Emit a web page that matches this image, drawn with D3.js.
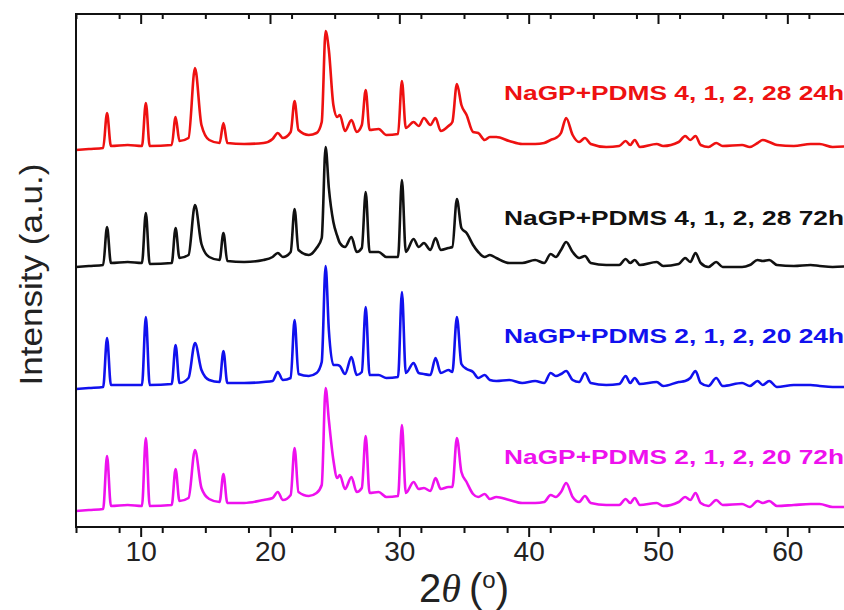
<!DOCTYPE html>
<html>
<head>
<meta charset="utf-8">
<script src="https://cdn.jsdelivr.net/npm/d3@7"></script>
<style>
  html, body { margin: 0; padding: 0; background: #fff; }
  svg { display: block; font-family: Arial, "Liberation Sans", sans-serif; }
</style>
</head>
<body>
<script>
// 2theta grid (degrees), shared by all four scans
const twoTheta = [5.0, 6.0, 7.1, 7.4, 7.7, 9.0, 10.1, 10.4, 10.7, 12.4,
  12.7, 13.0, 13.7, 14.2, 14.7, 15.3, 16.1, 16.4, 16.7, 18.0,
  19.5, 20.2, 20.6, 21.0, 21.6, 21.9, 22.2, 23.0, 23.6, 24.0,
  24.3, 24.55, 24.9, 25.2, 25.4, 25.8, 26.3, 26.7, 27.1, 27.4,
  27.7, 28.4, 29.0, 29.9, 30.2, 30.5, 31.1, 31.5, 31.9, 32.4,
  32.8, 33.2, 33.8, 34.1, 34.45, 34.8, 35.2, 35.7, 36.1, 36.6,
  37.0, 37.5, 38.5, 39.5, 40.5, 41.2, 41.7, 42.1, 42.5, 42.9,
  43.4, 43.9, 44.35, 44.8, 46.0, 47.0, 47.5, 47.85, 48.2, 48.6,
  49.9, 50.4, 51.6, 52.1, 52.5, 52.9, 53.3, 53.9, 54.5, 55.0,
  56.5, 57.1, 57.7, 58.1, 58.6, 59.2, 60.5, 61.8, 62.5, 63.5, 65.0]

// stacked intensities (a.u.), offsets included
const red24h = [377, 378, 379, 414, 381, 382, 381, 424, 381, 382,
  410, 386, 389, 459, 402, 387, 384, 404, 384, 383,
  384, 388, 394, 389, 395, 426, 397, 392, 394, 405,
  496, 477, 422, 410, 412, 396, 407, 395, 402, 437,
  397, 398, 392, 393, 446, 399, 405, 401, 409, 402,
  409, 396, 401, 405, 443, 422, 412, 395, 394, 387,
  390, 390, 386, 383, 383, 384, 387, 389, 394, 409,
  392, 385, 389, 383, 380, 381, 386, 382, 387, 380,
  383, 381, 385, 391, 387, 391, 382, 380, 384, 381,
  382, 380, 384, 387, 385, 382, 381, 383, 383, 380, 381]

const black72h = [260, 261, 262, 300, 264, 265, 264, 314, 263, 264,
  299, 269, 272, 322, 283, 270, 267, 294, 266, 265,
  267, 270, 274, 270, 275, 318, 277, 272, 279, 289,
  380, 339, 305, 291, 284, 280, 290, 275, 279, 335,
  275, 275, 270, 270, 347, 275, 288, 280, 284, 277,
  289, 277, 279, 280, 328, 299, 294, 282, 275, 270,
  272, 269, 264, 264, 267, 264, 273, 270, 277, 285,
  275, 269, 271, 264, 262, 262, 268, 264, 267, 262,
  265, 261, 263, 269, 265, 274, 264, 260, 265, 260,
  260, 262, 267, 266, 267, 262, 261, 262, 261, 260, 261]

const blue24h = [138, 139, 140, 189, 142, 142, 142, 210, 142, 143,
  182, 144, 149, 184, 157, 147, 145, 176, 144, 144,
  145, 146, 155, 147, 149, 207, 153, 151, 154, 165,
  261, 197, 162, 162, 161, 153, 170, 152, 155, 220,
  152, 152, 149, 150, 235, 154, 164, 154, 153, 152,
  169, 154, 157, 155, 210, 163, 158, 155, 149, 152,
  147, 146, 147, 144, 146, 144, 154, 151, 153, 156,
  147, 145, 154, 144, 142, 143, 151, 144, 149, 143,
  145, 141, 145, 146, 149, 156, 144, 141, 149, 141,
  144, 141, 146, 142, 146, 140, 142, 142, 141, 140, 140]

const magenta72h = [16, 17, 18, 71, 21, 22, 21, 89, 21, 22,
  58, 26, 29, 77, 39, 28, 25, 53, 24, 24,
  27, 29, 35, 27, 32, 79, 35, 31, 34, 42,
  139, 107, 67, 49, 52, 38, 50, 35, 39, 91,
  34, 35, 30, 31, 102, 34, 45, 38, 39, 36,
  49, 38, 40, 40, 89, 55, 45, 33, 30, 33,
  28, 30, 27, 24, 24, 25, 32, 30, 35, 44,
  30, 25, 31, 24, 22, 22, 28, 24, 29, 22,
  24, 21, 25, 30, 27, 34, 24, 21, 27, 22,
  23, 20, 26, 24, 26, 21, 22, 23, 23, 20, 20]

const seriesNames = ['NaGP+PDMS 4, 1, 2, 28 24h', 'NaGP+PDMS 4, 1, 2, 28 72h',
  'NaGP+PDMS 2, 1, 2, 20 24h', 'NaGP+PDMS 2, 1, 2, 20 72h']
const seriesValues = [red24h, black72h, blue24h, magenta72h]
const seriesColors = ['#ee1111', '#111111', '#1111ee', '#ee11ee']
const majorTicks = [10, 20, 30, 40, 50, 60]

const width = 844, height = 610
const m = { left: 76, right: 852, top: 14, bottom: 527 }
// label baselines, in intensity units
const labelLevels = [427, 302, 184, 63]

const x = d3.scaleLinear().domain([5, 65]).range([m.left, m.right])
const y = d3.scaleLinear().domain([0, 513]).range([m.bottom, m.top])
const minorTicks = d3.range(5, 65.01, 10 / 3).filter(t => Math.abs(t - Math.round(t / 10) * 10) > 0.1)

const svg = d3.select('body').append('svg')
  .attr('width', width)
  .attr('height', height)

svg.append('defs').append('clipPath').attr('id', 'plot')
  .append('rect')
  .attr('x', m.left).attr('y', m.top)
  .attr('width', m.right - m.left).attr('height', m.bottom - m.top)

let line = d3.line()
  .x((d, i) => x(twoTheta[i]))
  .y(d => y(d))
  .curve(d3.curveMonotoneX)

svg.append('g')
  .attr('clip-path', 'url(#plot)')
  .selectAll('path').data(seriesValues).enter()
  .append('path')
  .attr('d', d => line(d))
  .attr('fill', 'none')
  .attr('stroke', (d, i) => seriesColors[i])
  .attr('stroke-width', 2.6)
  .attr('stroke-linejoin', 'round')

// frame
svg.append('path')
  .attr('d', `M${m.right},${m.top}H${m.left}V${m.bottom}H${m.right}`)
  .attr('fill', 'none')
  .attr('stroke', '#111')
  .attr('stroke-width', 2)

let bottomAxis = svg.append('g')
  .attr('transform', `translate(0,${m.bottom})`)
  .call(d3.axisBottom(x).tickValues(majorTicks).tickSize(10).tickSizeOuter(0).tickPadding(4))
bottomAxis.select('.domain').remove()
bottomAxis.selectAll('line').attr('stroke', '#111').attr('stroke-width', 2)
bottomAxis.selectAll('text')
  .attr('font-size', 28)
  .attr('fill', '#222')
  .attr('font-family', 'Arial, "Liberation Sans", sans-serif')

let bottomMinor = svg.append('g')
  .attr('transform', `translate(0,${m.bottom})`)
  .call(d3.axisBottom(x).tickValues(minorTicks).tickSize(6).tickSizeOuter(0).tickFormat(''))
bottomMinor.select('.domain').remove()
bottomMinor.selectAll('line').attr('stroke', '#111').attr('stroke-width', 2)

let topAxis = svg.append('g')
  .attr('transform', `translate(0,${m.top})`)
  .call(d3.axisTop(x).tickValues(majorTicks).tickSize(-10).tickSizeOuter(0).tickFormat(''))
topAxis.select('.domain').remove()
topAxis.selectAll('line').attr('stroke', '#111').attr('stroke-width', 2)

let topMinor = svg.append('g')
  .attr('transform', `translate(0,${m.top})`)
  .call(d3.axisTop(x).tickValues(minorTicks).tickSize(-5).tickSizeOuter(0).tickFormat(''))
topMinor.select('.domain').remove()
topMinor.selectAll('line').attr('stroke', '#111').attr('stroke-width', 2)

// series labels
svg.append('g')
  .selectAll('text').data(seriesNames).enter()
  .append('text')
  .attr('x', 504)
  .attr('y', (d, i) => y(labelLevels[i]))
  .attr('font-size', 20)
  .attr('font-weight', 'bold')
  .attr('fill', (d, i) => seriesColors[i])
  .attr('textLength', 340)
  .attr('lengthAdjust', 'spacingAndGlyphs')
  .text(d => d)

// y title
svg.append('text')
  .attr('transform', `translate(42,${(m.top + m.bottom) / 2 + 4}) rotate(-90)`)
  .attr('text-anchor', 'middle')
  .attr('font-size', 31)
  .attr('fill', '#222')
  .attr('textLength', 222)
  .attr('lengthAdjust', 'spacingAndGlyphs')
  .text('Intensity (a.u.)')

// x title: 2θ (°)
let xt = svg.append('text')
  .attr('x', 464)
  .attr('y', 602)
  .attr('text-anchor', 'middle')
  .attr('font-size', 40)
  .attr('fill', '#222')
xt.append('tspan').text('2')
xt.append('tspan').attr('font-family', '"Liberation Serif", "Times New Roman", serif').attr('font-style', 'italic').text('θ')
xt.append('tspan').attr('dx', 8).text('(')
xt.append('tspan').attr('font-size', 24).attr('dy', -14).text('o')
xt.append('tspan').attr('dy', 14).text(')')
</script>
</body>
</html>
